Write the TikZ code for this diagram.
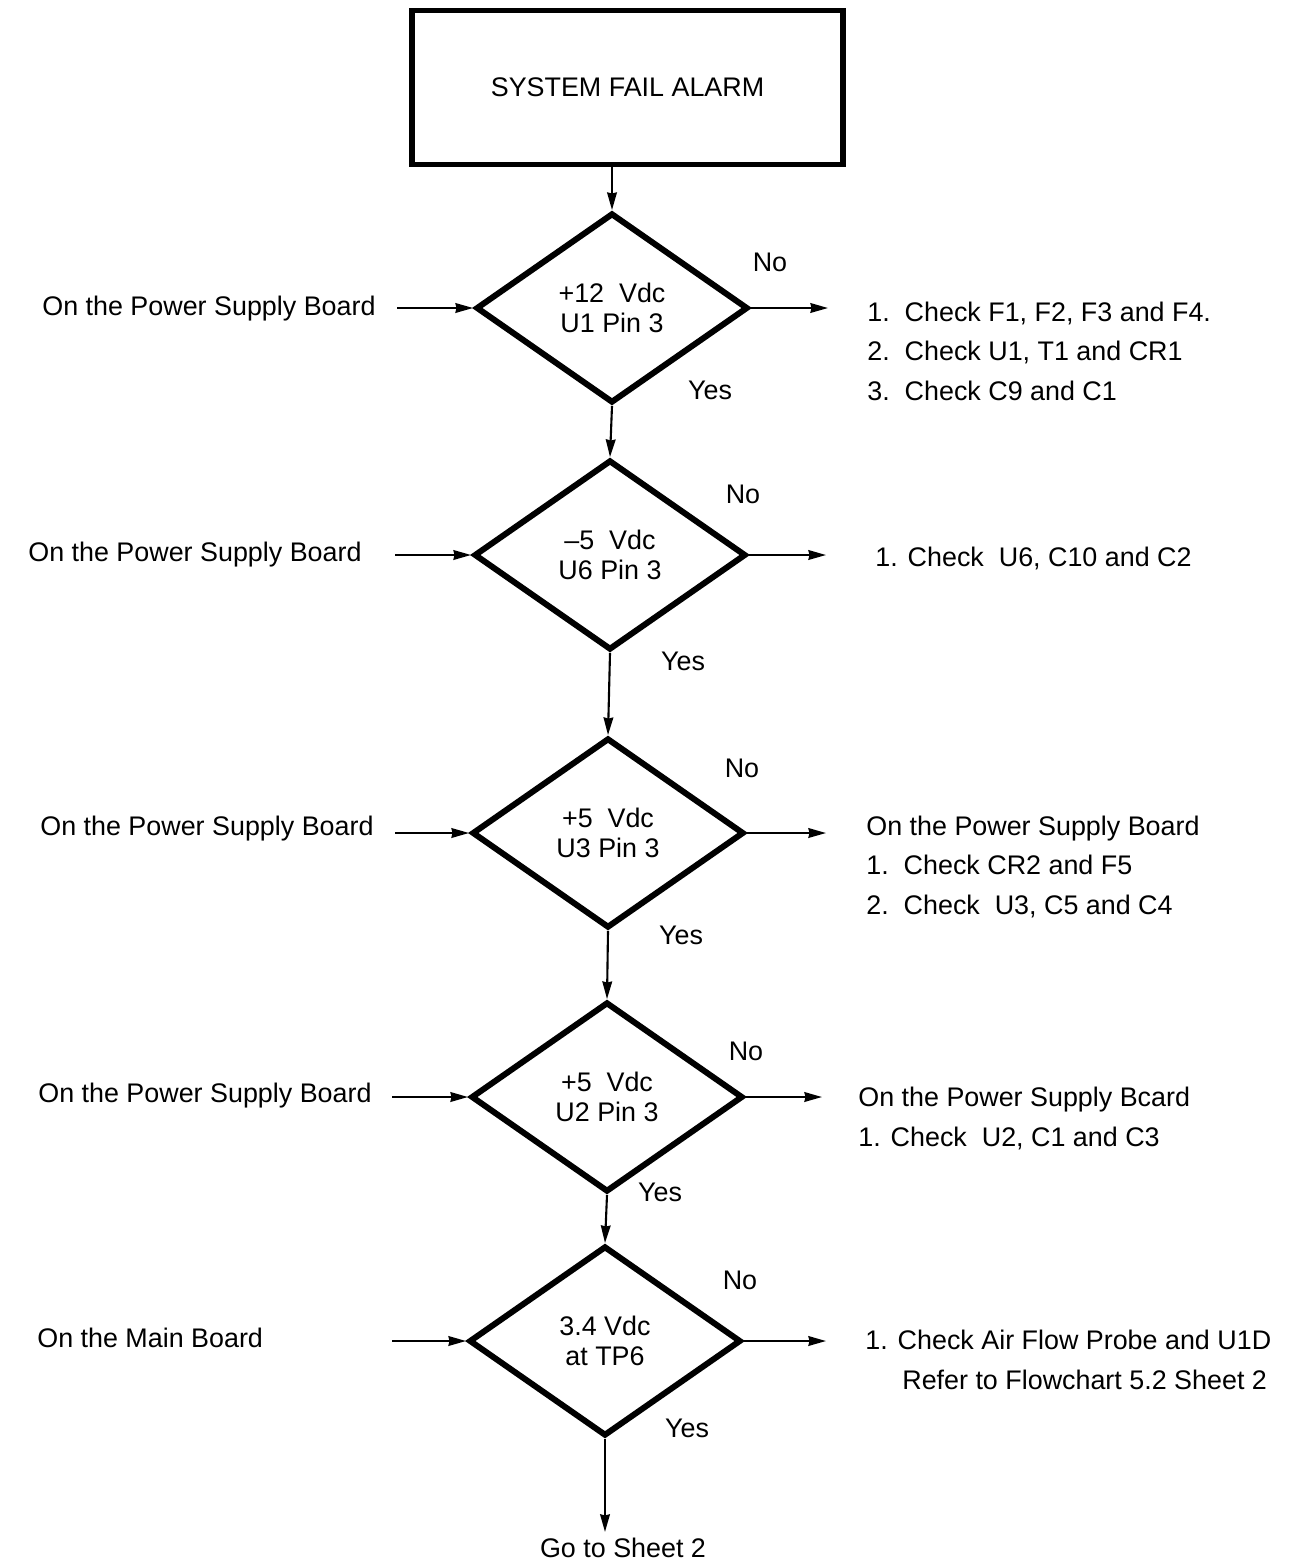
\documentclass[tikz,border=0pt]{standalone}
\usepackage{fontspec}
\setmainfont{Liberation Sans}
\usetikzlibrary{arrows.meta,shapes.geometric}

\tikzset{
  alarmbox/.style={draw, line width=3pt, minimum width=8.62cm, minimum height=3.08cm},
  decision/.style={draw, diamond, line width=3.4pt, minimum width=5.44cm, minimum height=3.8cm,
    inner sep=0pt, align=center, font=\fontsize{15.3}{17}\selectfont},
  txt/.style={inner sep=0pt, anchor=base west, align=left},
  flow/.style={->, line width=1.2pt},
}

\begin{document}
\begin{tikzpicture}[>={Stealth[length=10pt,width=5.5pt,inset=0.6pt]}, x=0.02cm, y=-0.02cm,
    font=\fontsize{15.3}{22.4}\selectfont]
    \useasboundingbox (0,0) rectangle (1299,1562);

    % start box
    \node[alarmbox] (alarm) at (627.5,87.5) {SYSTEM FAIL ALARM};

    % the five checks
    \node[decision] (q1) at (612,308) {+12~~Vdc\\U1 Pin 3};
    \node[decision] (q2) at (610,555) {--5~~Vdc\\U6 Pin 3};
    \node[decision] (q3) at (608,833) {+5~~Vdc\\U3 Pin 3};
    \node[decision] (q4) at (607,1097) {+5~~Vdc\\U2 Pin 3};
    \node[decision] (q5) at (605,1341) {3.4 Vdc\\at TP6};

    \draw[flow] (alarm.south -| q1) -- (q1.north);
    \draw[flow] (q1.south) -- (q2.north);
    \draw[flow] (q2.south) -- (q3.north);
    \draw[flow] (q3.south) -- (q4.north);
    \draw[flow] (q4.south) -- (q5.north);

    % where to measure
    \node[txt] (in1) at (42,315) {On the Power Supply Board};
    \node[txt] (in2) at (28,561) {On the Power Supply Board};
    \node[txt] (in3) at (40,835) {On the Power Supply Board};
    \node[txt] (in4) at (38,1102) {On the Power Supply Board};
    \node[txt] (in5) at (37,1347) {On the Main Board};

    \coordinate (s1) at (397,308);
    \coordinate (s2) at (395,555);
    \coordinate (s3) at (395,833);
    \coordinate (s4) at (392,1097);
    \coordinate (s5) at (392,1341);
    \draw[flow] (s1) -- (q1.west);
    \draw[flow] (s2) -- (q2.west);
    \draw[flow] (s3) -- (q3.west);
    \draw[flow] (s4) -- (q4.west);
    \draw[flow] (s5) -- (q5.west);

    % No branches
    \coordinate (e1) at (828,308);
    \coordinate (e2) at (826,555);
    \coordinate (e3) at (826,833);
    \coordinate (e4) at (822,1097);
    \coordinate (e5) at (826,1341);
    \draw[flow] (q1.east) -- (e1);
    \draw[flow] (q2.east) -- (e2);
    \draw[flow] (q3.east) -- (e3);
    \draw[flow] (q4.east) -- (e4);
    \draw[flow] (q5.east) -- (e5);

    \node (no1) at (770,262) {No};
    \node (no2) at (743,494) {No};
    \node (no3) at (742,768) {No};
    \node (no4) at (746,1051) {No};
    \node (no5) at (740,1280) {No};

    \node (yes1) at (710,390) {Yes};
    \node (yes2) at (683,661) {Yes};
    \node (yes3) at (681,935) {Yes};
    \node (yes4) at (660,1192) {Yes};
    \node (yes5) at (687,1428) {Yes};

    % what to check (placed at the last line)
    \node[txt] (r1) at (867,400) {1.~~Check F1, F2, F3 and F4.\\2.~~Check U1, T1 and CR1\\3.~~Check C9 and C1};
    \node[txt] (r2) at (875,566) {1. Check~~U6, C10 and C2};
    \node[txt] (r3) at (866,914) {On the Power Supply Board\\1.~~Check CR2 and F5\\2.~~Check~~U3, C5 and C4};
    \node[txt] (r4) at (858,1146) {On the Power Supply Bcard\\1. Check~~U2, C1 and C3};
    \node[txt] (r5) at (865,1389) {1. Check Air Flow Probe and U1D\\\hspace*{0.74cm}Refer to Flowchart 5.2 Sheet 2};

    % on to the next sheet
    \node (goto) at (623,1548) {Go to Sheet 2};
    \draw[flow] (q5.south) -- (q5.south |- goto.north);
  \end{tikzpicture}
\end{document}
